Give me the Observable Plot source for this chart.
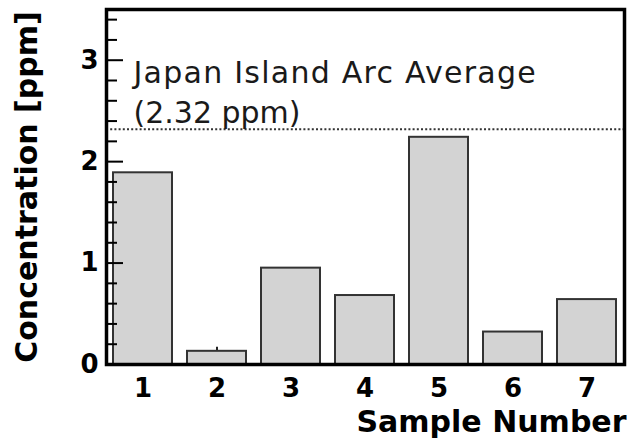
<!DOCTYPE html>
<html>
<head>
<meta charset="utf-8">
<script src="https://cdn.jsdelivr.net/npm/d3@7"></script>
<script src="https://cdn.jsdelivr.net/npm/@observablehq/plot@0.6"></script>
<style>
  html, body { margin: 0; padding: 0; background: #fff; }
  #chart svg { display: block; }
</style>
</head>
<body>
<div id="chart"></div>
<script>
const samples = ["1", "2", "3", "4", "5", "6", "7"];
const concentration = [1.89, 0.13, 0.95, 0.68, 2.24, 0.32, 0.64];
const errors = [0, 0.04, 0, 0, 0, 0, 0];
const average = 2.32;
const annotation = "Japan Island Arc Average\n(2.32 ppm)";
const yMajorTicks = [0, 1, 2, 3];
const yMinorTicks = [0.2, 0.4, 0.6, 0.8, 1.2, 1.4, 1.6, 1.8, 2.2, 2.4, 2.6, 2.8, 3.2, 3.4];
const xLabel = "Sample Number";
const yLabel = "Concentration [ppm]";

const data = samples.map((s, i) => ({sample: s, value: concentration[i], err: errors[i]}));

const W = 627, H = 443;
const mL = 106, mR = 3, mT = 9, mB = 79;
const frameW = W - mL - mR;

const chart = Plot.plot({
  width: W,
  height: H,
  marginLeft: mL,
  marginRight: mR,
  marginTop: mT,
  marginBottom: mB,
  style: {background: "#fff", color: "#000", fontFamily: "DejaVu Sans, sans-serif"},
  x: {type: "band", domain: samples, paddingInner: 0.2, paddingOuter: 0.1},
  y: {domain: [0, 3.5]},
  marks: [
    Plot.ruleX(data, {x: "sample", y1: d => d.value - d.err, y2: d => d.value + d.err, stroke: "#222", strokeWidth: 2}),
    Plot.barY(data, {x: "sample", y: "value", fill: "#d3d3d3", stroke: "#333", strokeWidth: 2}),
    Plot.ruleY([average], {stroke: "#333", strokeWidth: 2, strokeDasharray: "2,2.2"}),
    Plot.text([annotation], {
      frameAnchor: "left", y: () => average, textAnchor: "start", lineAnchor: "bottom",
      dx: 27, dy: -6, fontSize: 30, lineHeight: 1.33, fill: "#1a1a1a", fontFamily: "DejaVu Sans"
    }),
    Plot.tickY(yMinorTicks, {y: d => d, insetRight: frameW - 11, stroke: "#000", strokeWidth: 2}),
    Plot.tickY(yMajorTicks, {y: d => d, insetRight: frameW - 17, stroke: "#000", strokeWidth: 2}),
    Plot.axisY(yMajorTicks, {tickSize: 0, tickPadding: 8, fontSize: 26, fontWeight: "bold", label: null, tickFormat: d3.format("d")}),
    Plot.axisX({tickSize: 0, tickPadding: 14, fontSize: 26, fontWeight: "bold", label: null}),
    Plot.text([yLabel], {
      frameAnchor: "left", rotate: -90, lineAnchor: "middle", textAnchor: "middle",
      dx: -79, fontSize: 30, fontWeight: "bold"
    }),
    Plot.text([xLabel], {
      frameAnchor: "bottom-right", textAnchor: "end", lineAnchor: "middle",
      dx: 2, dy: 58, fontSize: 30, fontWeight: "bold"
    }),
    Plot.frame({stroke: "#000", strokeWidth: 3.5})
  ]
});

// widen the first annotation line slightly, as in the reference lettering
d3.select(chart).selectAll("tspan")
  .filter(function() { return this.textContent === "Japan Island Arc Average"; })
  .attr("letter-spacing", 1.25);

document.getElementById("chart").appendChild(chart);
</script>
</body>
</html>
